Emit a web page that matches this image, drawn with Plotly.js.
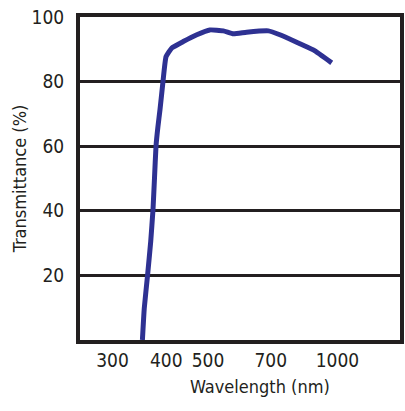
<!DOCTYPE html>
<html>
<head>
<meta charset="utf-8">
<script src="https://cdn.plot.ly/plotly-3.0.1.min.js"></script>
<style>html,body{margin:0;padding:0;background:#fff;}#chart{width:405px;height:411px;}</style>
</head>
<body>
<div id="chart"></div>
<script>
// Data
var wavelength = [352, 355.5, 362, 368, 372.5, 375.5, 378.6, 382.5, 386.8, 393, 399.5, 412, 438, 471, 505, 543, 573, 615, 691, 735, 804, 879, 970];
var transmittance = [0, 9.8, 20.3, 30.5, 40.3, 50, 60, 66, 71.4, 80, 87.7, 90.4, 92.4, 94.5, 96, 95.7, 94.8, 95.3, 95.7, 94.5, 92.2, 89.8, 85.8];
var xTickVals = [300, 400, 500, 700, 1000];
var xTickText = ['300', '400', '500', '700', '1000'];
var yTickVals = [20, 40, 60, 80, 100];
var yTickText = ['20', '40', '60', '80', '100'];

var ink = '#231f20';
var fontFam = '"DejaVu Sans Condensed", "Liberation Sans Narrow", sans-serif';

var trace = {
  x: wavelength,
  y: transmittance,
  type: 'scatter',
  mode: 'lines',
  line: {color: '#2e3192', width: 5, shape: 'spline', smoothing: 0.4},
  hoverinfo: 'skip'
};

var layout = {
  width: 405,
  height: 411,
  margin: {l: 80, r: 5, t: 17, b: 71},
  paper_bgcolor: '#ffffff',
  plot_bgcolor: '#ffffff',
  showlegend: false,
  font: {family: fontFam, color: ink, size: 19},
  xaxis: {
    type: 'log',
    range: [2.4014, 3.1456],
    tickvals: xTickVals,
    ticktext: xTickText,
    ticks: '',
    showgrid: false,
    zeroline: false,
    showline: true,
    mirror: true,
    linecolor: ink,
    linewidth: 4,
    tickfont: {family: fontFam, size: 19, color: ink},
    ticklabelstandoff: 0
  },
  yaxis: {
    range: [0, 100],
    tickvals: yTickVals,
    ticktext: yTickText,
    ticks: '',
    showgrid: true,
    gridcolor: ink,
    gridwidth: 3,
    zeroline: false,
    showline: true,
    mirror: true,
    linecolor: ink,
    linewidth: 4,
    tickfont: {family: fontFam, size: 19, color: ink},
    ticklabelstandoff: 8,
    title: {text: 'Transmittance (%)', font: {family: fontFam, size: 18, color: ink}, standoff: 1}
  },
  annotations: [{
    text: 'Wavelength (nm)',
    xref: 'paper', yref: 'paper',
    x: 0.5625, y: -0.1455,
    xanchor: 'center', yanchor: 'middle',
    showarrow: false,
    font: {family: fontFam, size: 18, color: ink}
  }]
};

Plotly.newPlot('chart', [trace], layout, {staticPlot: true, displayModeBar: false});
</script>
</body>
</html>
